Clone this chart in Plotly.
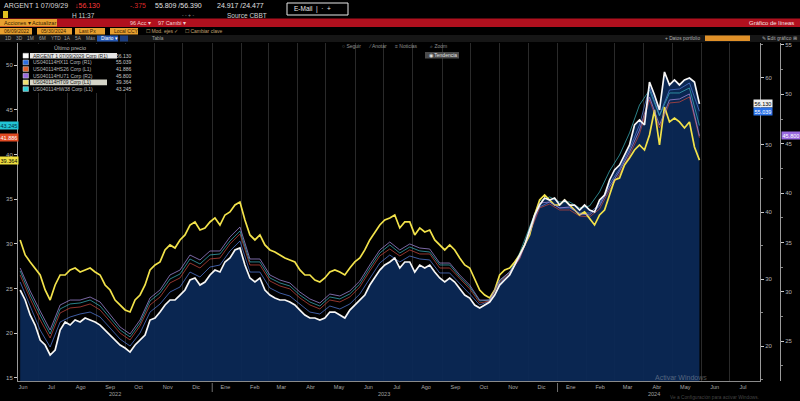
import pandas as pd
import plotly.graph_objects as go

W, H = 800, 401
FONT = "Liberation Sans Narrow, Liberation Sans, Arial, sans-serif"

# ---------------- data ----------------
START, END = "2022-06-12", "2024-05-30"

# ARGENT 1 07/09/2029 (right axis R1)
white_vals = [
    28.36, 26.87, 24.63, 23.13, 20.90, 20.15, 18.66, 19.40, 22.39, 23.58,
    23.13, 23.88, 23.58, 24.18, 23.88, 23.58, 23.13, 22.39, 21.64, 20.90,
    20.15, 19.70, 19.10, 20.15, 20.90, 21.64, 23.88, 24.18, 25.07, 26.12,
    26.87, 26.87, 27.61, 28.36, 29.85, 30.15, 29.10, 29.55, 30.60, 31.34,
    31.04, 32.54, 33.13, 34.33, 34.63, 32.09, 30.15, 29.55, 30.15, 28.36,
    27.61, 27.16, 26.87, 26.87, 26.57, 26.12, 25.37, 24.63, 24.18, 24.18,
    23.88, 24.18, 25.07, 25.07, 24.63, 24.18, 25.37, 26.12, 26.87, 27.61,
    29.10, 30.15, 31.34, 32.09, 32.54, 33.13, 31.64, 32.54, 32.54, 31.04,
    32.09, 31.64, 32.09, 31.04, 30.15, 29.55, 30.15, 29.55, 28.66, 27.61,
    27.16, 26.12, 25.67, 26.12, 26.57, 27.61, 29.10, 29.85, 30.60, 32.09,
    33.58, 35.07, 37.31, 39.55, 41.04, 42.09, 41.79, 42.09, 41.04, 41.79,
    41.04, 41.04, 40.30, 41.04, 40.30, 40.00, 41.79, 42.54, 44.78, 46.27,
    47.01, 48.51, 50.00, 52.99, 53.73, 52.99, 59.40, 57.46, 55.22, 60.90,
    58.96, 59.70, 58.96, 59.70, 60.00, 59.40, 56.13,
]
# left axis L1
yellow_vals = [
    30.44, 28.76, 27.98, 27.30, 26.52, 24.84, 23.72, 25.40, 26.52, 26.52,
    27.08, 27.30, 26.86, 27.08, 27.30, 26.86, 26.52, 25.40, 24.84, 23.72,
    23.17, 22.61, 22.38, 23.72, 24.28, 25.40, 27.08, 27.64, 27.98, 29.32,
    29.88, 29.54, 30.44, 31.00, 32.11, 32.45, 31.55, 31.78, 32.45, 32.90,
    32.11, 33.23, 33.57, 34.35, 34.69, 32.67, 31.00, 30.44, 31.00, 29.88,
    29.32, 29.09, 28.76, 28.42, 28.20, 27.98, 27.08, 26.52, 26.52, 25.96,
    25.74, 26.19, 26.86, 27.08, 26.86, 26.52, 27.30, 27.98, 28.42, 29.32,
    30.44, 31.33, 32.11, 32.67, 32.90, 33.23, 31.78, 32.45, 32.45, 31.00,
    31.78, 31.33, 31.55, 30.44, 29.88, 29.32, 29.88, 29.32, 28.42, 27.64,
    27.30, 25.96, 24.84, 24.28, 23.95, 24.84, 26.52, 27.08, 27.30, 27.98,
    28.76, 29.88, 31.00, 33.23, 34.91, 35.47, 34.91, 34.35, 34.35, 34.91,
    34.35, 33.79, 33.23, 33.57, 32.90, 32.11, 33.23, 33.79, 35.47, 37.15,
    37.37, 38.83, 39.61, 40.50, 41.06, 40.50, 42.18, 44.98, 41.06, 45.31,
    43.64, 44.08, 43.64, 42.96, 43.64, 40.84, 39.364,
]
# right axis R1
blue_vals = [
    29.55, 25.82, 22.39, 19.85, 23.58, 24.33, 24.78, 25.07, 24.33, 22.69,
    21.04, 20.00, 21.94, 25.07, 26.27, 28.06, 28.81, 31.04, 30.30, 31.79,
    32.09, 34.18, 35.67, 31.04, 31.04, 28.66, 27.91, 27.46, 26.27, 25.07,
    24.78, 25.97, 25.52, 26.27, 27.76, 30.15, 32.39, 33.58, 32.54, 33.43,
    32.99, 32.84, 30.90, 30.90, 29.25, 27.76, 26.12, 26.72, 29.40, 30.75,
    33.28, 37.01, 40.75, 41.49, 40.60, 40.60, 39.85, 39.85, 41.19, 44.18,
    46.42, 49.40, 52.99, 58.66, 54.48, 58.21, 58.36, 59.25, 55.039,
]
# left axis L1
orange_vals = [
    26.52, 23.84, 21.49, 19.47, 22.27, 22.83, 22.94, 23.28, 22.61, 21.38,
    20.03, 19.25, 20.82, 23.17, 24.06, 25.63, 26.19, 27.86, 27.30, 28.31,
    28.42, 29.99, 31.11, 27.64, 27.64, 25.85, 25.29, 24.96, 23.95, 23.17,
    22.72, 23.72, 23.50, 24.06, 25.18, 26.97, 28.65, 29.43, 28.65, 29.32,
    28.87, 28.87, 27.30, 27.30, 26.07, 24.96, 23.39, 23.61, 25.74, 26.74,
    28.31, 31.11, 34.02, 34.46, 33.79, 33.79, 33.12, 33.01, 33.90, 36.03,
    37.82, 39.94, 42.29, 46.10, 42.96, 45.76, 45.87, 46.43, 41.886,
]
# right axis R2
purple_vals = [
    32.41, 30.08, 28.05, 26.12, 28.66, 29.16, 29.16, 29.47, 28.96, 27.64,
    26.43, 25.72, 27.14, 29.37, 30.18, 31.70, 32.20, 33.72, 33.22, 34.13,
    34.13, 35.55, 36.56, 33.32, 33.32, 31.70, 31.19, 30.89, 29.97, 29.27,
    28.86, 29.77, 29.57, 30.08, 31.09, 32.71, 34.23, 35.04, 34.23, 34.84,
    34.43, 34.33, 32.91, 32.91, 31.70, 30.68, 29.16, 29.16, 31.19, 32.00,
    33.42, 35.95, 38.99, 39.09, 38.49, 38.59, 37.88, 37.78, 38.69, 40.61,
    42.23, 44.16, 46.39, 49.73, 46.89, 49.43, 49.53, 50.04, 45.80,
]
# left axis L1
cyan_vals = [
    26.97, 24.28, 22.05, 19.92, 22.72, 23.28, 23.39, 23.72, 23.05, 21.71,
    20.37, 19.59, 21.15, 23.61, 24.51, 26.07, 26.63, 28.31, 27.75, 28.76,
    28.87, 30.32, 31.44, 27.98, 27.98, 26.19, 25.63, 25.29, 24.28, 23.50,
    23.05, 24.06, 23.84, 24.40, 25.51, 27.30, 28.98, 29.88, 28.98, 29.65,
    29.21, 29.09, 27.64, 27.64, 26.30, 25.18, 23.61, 23.72, 25.85, 26.86,
    28.98, 31.89, 34.80, 35.25, 34.69, 34.69, 34.02, 34.24, 35.81, 38.15,
    39.94, 42.41, 45.54, 47.21, 44.31, 46.88, 46.88, 47.44, 43.245,
]

month_labels = ["Jun", "Jul", "Ago", "Sep", "Oct", "Nov", "Dic", "Ene", "Feb", "Mar", "Abr", "May",
                "Jun", "Jul", "Ago", "Sep", "Oct", "Nov", "Dic", "Ene", "Feb", "Mar", "Abr", "May",
                "Jun", "Jul"]
year_labels = ["2022", "2023", "2024"]
year_pos = ["2022-09-20", "2023-07-02", "2024-04-12"]
year_breaks = ["2023-01-01", "2024-01-01"]

left_ticks = [15, 20, 25, 30, 35, 40, 45, 50]
right1_ticks = [20, 30, 40, 50, 60]
right2_ticks = [25, 30, 35, 40, 45, 50, 55]

legend_names = ["ARGENT 1 07/09/2029 Corp (R1)", "US040114HX11 Corp (R1)", "US040114HS26 Corp (L1)",
                "US040114HU71 Corp (R2)", "US040114HT09 Corp (L1)", "US040114HW38 Corp (L1)"]
legend_series = [white_vals, blue_vals, orange_vals, purple_vals, yellow_vals, cyan_vals]

# ---------------- styling ----------------
C_WHITE, C_BLUE, C_ORANGE = "#f6f6f6", "rgba(80,120,210,0.85)", "rgba(190,70,60,0.85)"
C_PURPLE, C_YELLOW, C_CYAN = "rgba(160,135,215,0.85)", "#f2e24a", "rgba(60,180,190,0.8)"
LEG_COLORS = ["#ffffff", "#2c6ee0", "#e0602a", "#9a6ae0", "#f0e070", "#30d0d8"]
FILL = "rgba(11,40,86,0.94)"

dates_fine = pd.date_range(START, END, periods=len(white_vals))
dates_coarse = pd.date_range(START, END, periods=len(blue_vals))
month_mid = pd.date_range("2022-06-01", periods=len(month_labels), freq="MS") + pd.Timedelta(days=14)


def px(x):
    return x / W


def py(y):
    return 1 - y / H


fig = go.Figure()
fig.add_trace(go.Scatter(x=dates_fine, y=white_vals, yaxis="y", mode="lines",
                         line=dict(width=0, color=FILL), fill="tozeroy", fillcolor=FILL,
                         hoverinfo="skip", showlegend=False))
fig.add_trace(go.Scatter(x=dates_coarse, y=blue_vals, yaxis="y", mode="lines",
                         line=dict(width=0.9, color=C_BLUE), showlegend=False))
fig.add_trace(go.Scatter(x=dates_coarse, y=orange_vals, yaxis="y2", mode="lines",
                         line=dict(width=0.9, color=C_ORANGE), showlegend=False))
fig.add_trace(go.Scatter(x=dates_coarse, y=cyan_vals, yaxis="y2", mode="lines",
                         line=dict(width=0.9, color=C_CYAN), showlegend=False))
fig.add_trace(go.Scatter(x=dates_fine, y=yellow_vals, yaxis="y2", mode="lines",
                         line=dict(width=1.7, color=C_YELLOW), showlegend=False))
fig.add_trace(go.Scatter(x=dates_coarse, y=purple_vals, yaxis="y3", mode="lines",
                         line=dict(width=0.9, color=C_PURPLE), showlegend=False))
fig.add_trace(go.Scatter(x=dates_fine, y=white_vals, yaxis="y4", mode="lines",
                         line=dict(width=1.7, color=C_WHITE), showlegend=False))

tickfont = dict(family=FONT, size=6, color="#b4b4b4")
R1_RANGE = [14.78, 65.22]
ydom = [py(381), py(43)]

fig.update_layout(
    width=W, height=H, margin=dict(l=0, r=0, t=0, b=0),
    paper_bgcolor="black", plot_bgcolor="black", showlegend=False,
    font=dict(family=FONT, color="#cccccc"),
    xaxis=dict(domain=[px(18), px(760)], range=["2022-06-09 17:00", "2024-08-02"],
               tickmode="array", tickvals=month_mid, ticktext=month_labels, ticks="",
               showgrid=False, zeroline=False, showline=True, linecolor="#8a8a8a", linewidth=1,
               tickfont=dict(family=FONT, size=5.5, color="#a8a8a8"), automargin=False,
               minor=dict(dtick="M1", tick0="2022-06-01", showgrid=True, gridcolor="#2a2a2a",
                          gridwidth=1, ticks="")),
    yaxis=dict(domain=ydom, side="right", anchor="x", range=R1_RANGE, tickmode="array",
               tickvals=right1_ticks, ticks="outside", ticklen=3, tickcolor="#cccccc",
               showline=True, linecolor="#9a9a9a", showgrid=False, zeroline=False,
               tickfont=tickfont, automargin=False,
               minor=dict(dtick=5, ticks="outside", ticklen=2, tickcolor="#888888")),
    yaxis2=dict(overlaying="y", side="left", anchor="x", range=[14.66, 52.47], tickmode="array",
                tickvals=left_ticks, ticks="outside", ticklen=3, tickcolor="#cccccc",
                showline=True, linecolor="#9a9a9a", showgrid=False, zeroline=False,
                tickfont=tickfont, automargin=False),
    yaxis3=dict(overlaying="y", side="right", anchor="free", position=px(780), range=[20.96, 55.20],
                tickmode="array", tickvals=right2_ticks, ticks="outside", ticklen=3,
                tickcolor="#cccccc", showline=True, linecolor="#9a9a9a", showgrid=False,
                zeroline=False, tickfont=tickfont, automargin=False,
                minor=dict(dtick=2.5, ticks="outside", ticklen=2, tickcolor="#888888")),
    yaxis4=dict(overlaying="y", range=R1_RANGE, visible=False),
)

shapes = []
ann = []


def rect(x0, y0, x1, y1, fill, line=None, lw=0):
    shapes.append(dict(type="rect", xref="paper", yref="paper", x0=px(x0), x1=px(x1),
                       y0=py(y1), y1=py(y0), fillcolor=fill,
                       line=dict(width=lw, color=line or fill), layer="above"))


def txt(x, y, s, color="#d0d0d0", size=6.5, anchor="left", bg=None):
    d = dict(xref="paper", yref="paper", x=px(x), y=py(y), text=s, showarrow=False,
             xanchor=anchor, yanchor="middle", font=dict(family=FONT, size=size, color=color))
    if bg:
        d["bgcolor"] = bg
    ann.append(d)


# ---- header ----
txt(2, 5.5, "ARGENT 1 07/09/29", "#d8d8d8", 7)
txt(73, 5.5, "↓56.130", "#ff3a3a", 7)
txt(128, 5.5, "-.375", "#d82828", 7)
txt(153, 5.5, "55.809 /56.390", "#e0e0e0", 7)
txt(215, 5.5, "24.917 /24.477", "#e0e0e0", 7)
rect(287, 3, 348, 15, "rgba(0,0,0,0)", "#e8e8e8", 1)
txt(292, 9, "E-Mail  |  ·  +", "#e8e8e8", 6.5)
rect(3, 11, 8, 18, "#e0c020")
txt(70, 15, "H 11:37", "#d0d0d0", 6.5)
txt(180, 15.5, "- - + -", "#909090", 5)
txt(225, 15, "Source CBBT", "#d0d0d0", 6.5)
rect(0, 18.5, 800, 27, "#b0101e")
rect(0, 19, 57, 26.5, "#e8a030")
txt(2, 22.8, "Acciones ▾ Actualizar", "#3a2000", 5.5)
txt(128, 22.8, "96 Acc ▾", "#f0d0d0", 5.5)
txt(156, 22.8, "97 Cambi ▾", "#f0d0d0", 5.5)
txt(796, 22.8, "Gráfico de líneas", "#f4e0e0", 6, "right")
# row 3
for (x0, x1, s) in [(0, 32, "06/09/2022"), (37, 72, "05/30/2024"), (75, 105, "Last Px"),
                    (110, 138, "Local CCY")]:
    rect(x0, 28, x1, 34.5, "#e8a030")
    txt(x0 + 2, 31.3, s, "#3a2000", 5)
txt(144, 31.3, "☐ Mod. ejes ✓", "#c0a070", 5)
txt(183, 31.3, "☐ Cambiar clave", "#c0a070", 5)
# row 4
rect(0, 35, 800, 42, "#161616")
for x, s in zip([3, 14, 25, 37, 49, 62, 73, 84],
                ["1D", "3D", "1M", "6M", "YTD", "1A", "5A", "Máx"]):
    txt(x, 38.5, s, "#a0a0a0", 4.8)
rect(97, 35.5, 118, 41.5, "#2456b0")
txt(99, 38.5, "Diario ▾", "#ffffff", 4.8)
rect(120, 35.5, 128, 41.5, "#1d3f80")
txt(150, 38.5, "Tabla", "#a0a0a0", 4.8)
txt(663, 38.5, "+ Datos portfolio", "#b0b0b0", 4.8)
rect(705, 35.5, 750, 41, "#e09028")
txt(760, 38.5, "✎ Edit gráfico ⊞", "#b0b0b0", 4.8)

# ---- chart buttons ----
txt(340, 46.5, "○ Seguir", "#909090", 5)
txt(366, 46.5, "⁄ Anotar", "#909090", 5)
txt(393, 46.5, "≡ Noticias", "#909090", 5)
txt(428, 46.5, "⌕ Zoom", "#909090", 5)
rect(425, 52, 459, 58.5, "#4a4a4a")
txt(427, 55.3, "◉ Tendencia", "#e0e0e0", 5)

# ---- legend ----
rect(20, 44, 136, 93, "#000000")
txt(70, 48.5, "Último precio", "#b8b8b8", 5.5, "center")
for i, (name, series, col) in enumerate(zip(legend_names, legend_series, LEG_COLORS)):
    cy = 55.7 + 6.67 * i
    rect(23, cy - 2.4, 28.5, cy + 2.4, col, "#dddddd", 0.5)
    dark = i in (0, 4)
    if dark:
        rect(30, cy - 2.8, 117 if i == 0 else 107, cy + 2.8, "#e6e6e6" if i == 0 else "#d4d4c8")
    txt(31, cy, name, "#202020" if dark else "#b8b8b8", 5)
    txt(134, cy, f"{series[-1]:.3f}", "#c8c8c8", 5, "right")


# ---- last-value tags on axes ----
def tag(yref, xpos, val, bg, fg):
    ann.append(dict(xref="paper", yref=yref, x=px(xpos), y=val, text=f"{val:.3f}",
                    showarrow=False, xanchor="center", yanchor="middle", bgcolor=bg,
                    borderpad=0.5, font=dict(family=FONT, size=5.5, color=fg)))


tag("y", 763, white_vals[-1], "#f0f0f0", "#000000")
tag("y", 763, blue_vals[-1], "#2a72e8", "#ffffff")
tag("y3", 791, purple_vals[-1], "#9a6ae0", "#ffffff")
tag("y2", 8.5, cyan_vals[-1], "#22c4d4", "#003040")
tag("y2", 8.5, orange_vals[-1], "#e04a22", "#ffffff")
tag("y2", 8.5, yellow_vals[-1], "#f0e040", "#000000")

# ---- year labels and breaks ----
for s, d in zip(year_labels, year_pos):
    ann.append(dict(xref="x", yref="paper", x=d, y=py(394), text=s, showarrow=False,
                    xanchor="center", yanchor="middle",
                    font=dict(family=FONT, size=5.5, color="#a0a0a0")))
for d in year_breaks:
    shapes.append(dict(type="line", xref="x", yref="paper", x0=d, x1=d, y0=py(392), y1=py(383),
                       line=dict(color="#707070", width=1)))

# ---- OS watermark (faint) ----
txt(653, 377.5, "Activar Windows", "rgba(200,200,200,0.40)", 7)
txt(668, 397.5, "Ve a Configuración para activar Windows.", "rgba(200,200,200,0.35)", 4.8)

fig.update_layout(shapes=shapes, annotations=ann)
fig.write_html("out.html", config={"displayModeBar": False},
               post_script="document.body.style.margin='0';")
